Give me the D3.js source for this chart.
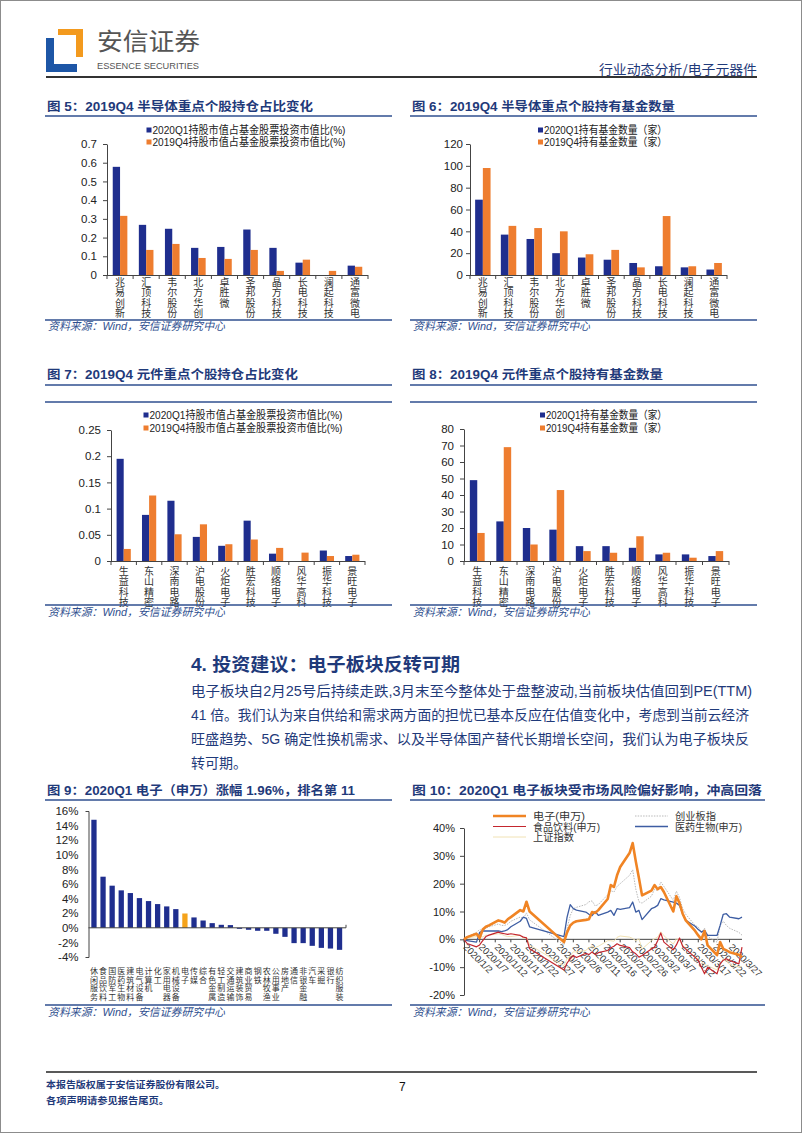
<!DOCTYPE html>
<html><head><meta charset="utf-8">
<script src="https://cdn.jsdelivr.net/npm/d3@7"></script>
<style>body{margin:0;background:#fff;}svg{display:block;}</style>
</head><body>
<svg id="c" width="802" height="1133"></svg>
<script>
// ---------------- DATA ----------------
const semiCats = ["兆易创新","汇顶科技","韦尔股份","北方华创","卓胜微","圣邦股份","晶方科技","长电科技","澜起科技","通富微电"];
const semiRatioQ1 = [0.578,0.268,0.247,0.145,0.150,0.243,0.145,0.066,0,0.050];
const semiRatioQ4 = [0.316,0.134,0.166,0.091,0.086,0.134,0.022,0.082,0.022,0.044];
const semiFundQ1 = [69,37,33,20,16,14,11,8,7,5];
const semiFundQ4 = [98,45,43,40,19,23,7,54,8,11];
const compCats = ["生益科技","东山精密","深南电路","沪电股份","火炬电子","胜宏科技","顺络电子","风华高科","振华科技","景旺电子"];
const compRatioQ1 = [0.195,0.088,0.115,0.046,0.029,0.077,0.014,0,0.020,0.0095];
const compRatioQ4 = [0.023,0.125,0.051,0.070,0.032,0.041,0.025,0.016,0.0095,0.012];
const compFundQ1 = [49,24,20,19,9,9,8,4,4,3];
const compFundQ4 = [17,69,10,43,6,5,15,5,2,6];
const ratioLegend = ["2020Q1持股市值占基金股票投资市值比(%)","2019Q4持股市值占基金股票投资市值比(%)"];
const fundLegend = ["2020Q1持有基金数量（家）","2019Q4持有基金数量（家）"];
const semiRatioTicks = [0,0.1,0.2,0.3,0.4,0.5,0.6,0.7];
const semiFundTicks = [0,20,40,60,80,100,120];
const compRatioTicks = [0,0.05,0.1,0.15,0.2,0.25];
const compFundTicks = [0,10,20,30,40,50,60,70,80];

const industryCats = ["休闲服务","食品饮料","国防军工","医药生物","建筑材料","电气设备","计算机","化工","家用电器","机械设备","电子","传媒","综合","有色金属","轻工制造","交通运输","建筑装饰","商业贸易","钢铁","农林牧渔","公用事业","房地产","通信","非银金融","汽车","采掘","银行","纺织服装"];
const industryReturns = [14.8,7.0,5.77,5.13,4.76,4.07,3.66,3.25,2.93,2.56,1.96,1.42,1.0,0.64,0.41,0.37,-0.14,-0.27,-0.41,-0.41,-0.82,-1.24,-2.1,-2.1,-2.47,-2.75,-2.84,-3.02];
const industryTicks = [-4,-2,0,2,4,6,8,10,12,14,16];

const tradeDates = ["2020/1/2","2020/1/3","2020/1/6","2020/1/7","2020/1/8","2020/1/9","2020/1/10","2020/1/13","2020/1/14","2020/1/15","2020/1/16","2020/1/17","2020/1/20","2020/1/21","2020/1/22","2020/1/23",
"2020/2/3","2020/2/4","2020/2/5","2020/2/6","2020/2/7","2020/2/10","2020/2/11","2020/2/12","2020/2/13","2020/2/14","2020/2/17","2020/2/18","2020/2/19","2020/2/20","2020/2/21","2020/2/24","2020/2/25","2020/2/26","2020/2/27","2020/2/28",
"2020/3/2","2020/3/3","2020/3/4","2020/3/5","2020/3/6","2020/3/9","2020/3/10","2020/3/11","2020/3/12","2020/3/13","2020/3/16","2020/3/17","2020/3/18","2020/3/19","2020/3/20","2020/3/23","2020/3/24","2020/3/25","2020/3/26","2020/3/27","2020/3/30","2020/3/31"];
const elecSW = [0,0.8,2.0,0.5,3.5,4.5,5.0,6.8,6.5,6.0,7.2,8.0,10.5,10.0,13.5,10.0,
-1.0,2.5,5.0,6.0,6.5,7.0,7.2,9.8,9.5,10.5,14.5,19.5,18.8,23.0,26.0,31.0,34.6,28.0,22.0,15.8,
17.5,19.5,18.0,18.8,17.0,10.0,15.5,13.0,9.2,6.8,3.0,1.4,0.0,3.0,-2.2,-5.7,-1.0,-3.4,-4.0,-4.6,-5.5,-6.4];
const gemIndex = [0,1.0,2.5,3.5,3.0,4.0,4.5,5.5,5.0,5.0,5.5,6.5,8.0,7.5,9.5,7.0,
-2.0,4.0,8.5,11.0,11.5,12.5,13.5,13.8,12.0,12.5,16.0,17.5,17.0,19.0,20.0,23.0,25.0,18.0,13.5,13.0,
15.5,18.0,17.5,20.6,19.0,14.0,17.3,15.0,11.0,9.0,5.0,4.4,2.5,4.0,1.0,-1.0,5.0,6.5,5.0,4.0,2.5,1.5];
const foodSW = [0,-1.5,-2.7,-2.0,-0.5,1.0,1.5,2.6,2.2,2.0,1.8,2.0,1.4,0.8,0.5,-3.4,
-11.0,-8.5,-7.0,-5.8,-6.5,-5.0,-5.5,-4.5,-5.5,-4.8,-4.0,-3.0,-2.5,-1.6,-2.2,-3.0,-4.5,-5.2,-6.4,-5.8,
-3.5,-2.8,-0.5,2.3,-1.0,-3.8,-2.0,0.5,-2.5,-3.5,-6.5,-7.6,-10.0,-12.4,-10.0,-12.4,-8.8,-7.5,-7.0,-7.6,-8.8,-2.8];
const pharmaSW = [0,-0.5,-1.0,2.5,3.0,3.0,3.0,3.0,2.8,3.0,3.5,4.5,6.5,8.0,7.5,4.5,
1.0,8.0,12.5,11.0,10.5,9.8,9.0,8.5,10.0,8.6,9.8,10.4,8.6,11.0,10.8,11.4,13.4,9.8,10.4,7.1,
11.0,11.5,12.2,14.6,14.2,13.4,13.0,12.2,9.2,6.8,4.7,3.5,2.6,3.2,1.4,1.4,5.0,9.0,9.2,8.0,7.4,8.0];
const shIndex = [0,0.5,1.0,1.5,0.8,1.5,1.5,2.0,1.8,1.3,1.0,1.0,1.5,0.3,0.8,-2.0,
-9.5,-7.0,-6.0,-4.5,-4.5,-4.0,-3.0,-2.5,-3.0,-2.5,-0.5,-0.5,-0.7,0.7,1.2,0.8,0.3,-0.5,0.2,-3.5,
-0.5,0.2,0.8,2.7,1.3,-1.7,0.2,-0.3,-2.0,-3.5,-6.7,-7.0,-8.0,-9.0,-9.5,-11.0,-9.0,-7.0,-7.5,-9.0,-10.0,-9.7];
const dateTickLabels = ["2020/1/2","2020/1/7","2020/1/12","2020/1/17","2020/1/22","2020/1/27","2020/2/1","2020/2/6","2020/2/11","2020/2/16","2020/2/21","2020/2/26","2020/3/2","2020/3/7","2020/3/12","2020/3/17","2020/3/22","2020/3/27"];
const lineTicks = [-20,-10,0,10,20,30,40];
const lineNames = ["电子(申万)","创业板指","食品饮料(申万)","医药生物(申万)","上证指数"];

const paraLines = ["电子板块自2月25号后持续走跌,3月末至今整体处于盘整波动,当前板块估值回到PE(TTM)",
"41 倍。我们认为来自供给和需求两方面的担忧已基本反应在估值变化中，考虑到当前云经济",
"旺盛趋势、5G 确定性换机需求、以及半导体国产替代长期增长空间，我们认为电子板块反",
"转可期。"];

// ---------------- STYLE ----------------
const LAT = "'Liberation Sans','Noto Sans CJK SC',sans-serif";
const CJK = "'Noto Sans CJK SC',sans-serif";
const NAVY = "#1f3a7a";
const BLUE = "#1f2e8e";
const ORANGE = "#ee7d2f";
const svg = d3.select("#c");

svg.append("rect").attr("x",0.5).attr("y",0.5).attr("width",801).attr("height",1132).attr("fill","none").attr("stroke","#8c8c8c");

// header
svg.append("path").attr("d","M46,38H54V64H77V72H46Z").attr("fill","#1d56a6");
svg.append("path").attr("d","M58,29H83V57H76V35H58Z").attr("fill","#f39a1e");
svg.append("text").attr("x",97).attr("y",50).attr("font-family",CJK).attr("font-size",24).attr("fill","#555")
  .attr("textLength",103).attr("lengthAdjust","spacingAndGlyphs").text("安信证券");
svg.append("text").attr("x",97).attr("y",69).attr("font-family","'Liberation Sans Narrow','Liberation Sans',sans-serif").attr("font-size",9.5).attr("fill","#555")
  .attr("textLength",102).attr("lengthAdjust","spacingAndGlyphs").text("ESSENCE SECURITIES");
svg.append("text").attr("x",599).attr("y",74).attr("font-family",CJK).attr("font-size",13).attr("fill",NAVY)
  .attr("textLength",158).attr("lengthAdjust","spacingAndGlyphs").text("行业动态分析/电子元器件");
svg.append("line").attr("x1",46).attr("x2",757).attr("y1",77).attr("y2",77).attr("stroke","#333").attr("stroke-width",2);

function hline(x1,x2,y,color,w){svg.append("line").attr("x1",x1).attr("x2",x2).attr("y1",y).attr("y2",y).attr("stroke",color||"#2f4f8f").attr("stroke-width",w||1.5);}
function title(x,y,txt,len){
  svg.append("text").attr("x",x).attr("y",y).attr("font-family",LAT).attr("font-weight","bold").attr("font-size",12.5)
    .attr("fill",NAVY).attr("textLength",len).attr("lengthAdjust","spacingAndGlyphs").text(txt);
}
function source(x,y){
  svg.append("text").attr("x",x).attr("y",y).attr("font-family",LAT).attr("font-style","italic").attr("font-size",11)
    .attr("fill","#2f4f8f").attr("textLength",177).attr("lengthAdjust","spacingAndGlyphs").text("资料来源：Wind，安信证券研究中心");
}
// vertical category label: one text element, top-to-bottom
function vlabel(g,xc,yTop,step,txt,size){
  g.append("text").attr("x",xc).attr("y",yTop)
    .style("writing-mode","vertical-rl").style("text-orientation","upright")
    .attr("font-family",CJK).attr("font-size",size).attr("letter-spacing",step-size)
    .attr("fill","#333").text(txt);
}

function barChart(o){
  const g = svg.append("g");
  const x = d3.scaleBand().domain(o.cats).range([o.x0,o.x1]);
  const y = d3.scaleLinear().domain([0,o.max]).range([o.yBot,o.yTop]);
  const bw = x.bandwidth();
  const inner = d3.scaleBand().domain(["a","b"]).range([0,bw*o.pair]);
  const off = bw*(1-o.pair)/2;
  const ax = g.append("g").attr("transform",`translate(${o.x0},0)`)
    .call(d3.axisLeft(y).tickValues(o.ticks).tickFormat(d3.format("~g")).tickSize(4).tickSizeOuter(0).tickPadding(o.pad));
  ax.select(".domain").attr("stroke","#444");
  ax.selectAll(".tick line").attr("stroke","#444");
  ax.selectAll(".tick text").attr("font-family",LAT).attr("font-size",11.5).attr("fill","#222");
  [[o.a,"a",BLUE],[o.b,"b",ORANGE]].forEach(([vals,k,col])=>{
    g.append("g").selectAll("rect").data(o.cats).join("rect")
      .attr("x",d=>x(d)+off+inner(k)).attr("width",inner.bandwidth())
      .attr("y",(d,i)=>y(vals[i])).attr("height",(d,i)=>y(0)-y(vals[i])).attr("fill",col);
  });
  g.append("line").attr("x1",o.x0).attr("x2",o.x1).attr("y1",y(0)+0.5).attr("y2",y(0)+0.5).attr("stroke","#444");
  d3.range(o.cats.length+1).forEach(i=>{
    const xx = o.x0+i*bw;
    g.append("line").attr("x1",xx).attr("x2",xx).attr("y1",y(0)).attr("y2",y(0)+4).attr("stroke","#444");
  });
  o.cats.forEach(c=>vlabel(g,x(c)+bw/2,o.labY-5,10.5,c,10));
  [[o.legend[0],BLUE,o.legY[0]],[o.legend[1],ORANGE,o.legY[1]]].forEach(([t,col,yy])=>{
    g.append("rect").attr("x",o.legX).attr("y",yy-2.5).attr("width",5).attr("height",5).attr("fill",col);
    g.append("text").attr("x",o.legX+6).attr("y",yy).attr("dominant-baseline","central").attr("font-family",LAT)
      .attr("font-size",11).attr("fill","#222").attr("textLength",o.legW).attr("lengthAdjust","spacingAndGlyphs").text(t);
  });
}

// Chart 5
title(47,111,"图 5：2019Q4 半导体重点个股持仓占比变化",266);
hline(45,392,116);
barChart({cats:semiCats,a:semiRatioQ1,b:semiRatioQ4,x0:107,x1:368,yTop:144,yBot:275,max:0.7,ticks:semiRatioTicks,pad:6,pair:0.56,labY:282,
  legend:ratioLegend,legX:146.5,legY:[130,142],legW:193});
hline(45,392,320);
source(48,330);

// Chart 6
title(412,111,"图 6：2019Q4 半导体重点个股持有基金数量",263);
hline(410,757,116);
barChart({cats:semiCats,a:semiFundQ1,b:semiFundQ4,x0:470,x1:727,yTop:144,yBot:275,max:120,ticks:semiFundTicks,pad:3,pair:0.6,labY:282,
  legend:fundLegend,legX:538,legY:[130,142],legW:123});
hline(410,757,320);
source(413,330);

// Chart 7
title(47,379,"图 7：2019Q4 元件重点个股持仓占比变化",251);
hline(45,392,385); hline(45,392,402);
barChart({cats:compCats,a:compRatioQ1,b:compRatioQ4,x0:111,x1:365,yTop:430,yBot:561,max:0.25,ticks:compRatioTicks,pad:6,pair:0.56,labY:571,
  legend:ratioLegend,legX:143.5,legY:[415,428],legW:193});
hline(45,392,605);
source(48,616);

// Chart 8
title(412,379,"图 8：2019Q4 元件重点个股持有基金数量",251);
hline(410,757,385); hline(410,757,402);
barChart({cats:compCats,a:compFundQ1,b:compFundQ4,x0:464,x1:729,yTop:429,yBot:561,max:80,ticks:compFundTicks,pad:6,pair:0.56,labY:571,
  legend:fundLegend,legX:540,legY:[415,428],legW:121});
hline(410,757,605);
source(413,616);

// Section text
svg.append("text").attr("x",191).attr("y",671).attr("font-family",LAT).attr("font-weight","bold").attr("font-size",18)
  .attr("fill",NAVY).attr("textLength",269).attr("lengthAdjust","spacingAndGlyphs").text("4. 投资建议：电子板块反转可期");
const paraLen = [561,558,558,null];
paraLines.forEach((t,i)=>{
  const tx = svg.append("text").attr("x",191).attr("y",696+i*24).attr("font-family",LAT).attr("font-size",14).attr("fill",NAVY).text(t);
  if(paraLen[i]) tx.attr("textLength",paraLen[i]).attr("lengthAdjust","spacingAndGlyphs");
});

// Chart 9
title(47,795,"图 9：2020Q1 电子（申万）涨幅 1.96%，排名第 11",308);
hline(45,392,800);
{
  const g = svg.append("g");
  const x = d3.scaleBand().domain(industryCats).range([87.5,346]).padding(0.42);
  const y = d3.scaleLinear().domain([-4,16]).range([957,811]);
  const ax = g.append("g").attr("transform","translate(88.5,0)")
    .call(d3.axisLeft(y).tickValues(industryTicks).tickFormat(d=>d+"%").tickSize(0).tickSizeOuter(3).tickPadding(10));
  ax.select(".domain").attr("stroke","#444");
  ax.selectAll(".tick text").attr("font-family",LAT).attr("font-size",11.5).attr("fill","#222");
  g.selectAll("rect").data(industryCats).join("rect")
    .attr("x",d=>x(d)).attr("width",x.bandwidth())
    .attr("y",(d,i)=>y(Math.max(0,industryReturns[i]))).attr("height",(d,i)=>Math.abs(y(industryReturns[i])-y(0)))
    .attr("fill",d=>d==="电子"?"#f5a31a":BLUE);
  g.append("line").attr("x1",88.5).attr("x2",346).attr("y1",y(0)).attr("y2",y(0)).attr("stroke","#444");
  g.append("line").attr("x1",346).attr("x2",346).attr("y1",y(0)-3).attr("y2",y(0)).attr("stroke","#444");
  industryCats.forEach(c=>vlabel(g,x(c)+x.bandwidth()/2,967,8.6,c,8));
}
hline(45,392,1005);
source(48,1016);

// Chart 10
title(412,795,"图 10：2020Q1 电子板块受市场风险偏好影响，冲高回落",350);
hline(410,765,800);
{
  const g = svg.append("g");
  const parse = d3.timeParse("%Y/%m/%d");
  const x = d3.scaleTime().domain([parse("2020/1/2"),parse("2020/3/31")]).range([464,742]);
  const y = d3.scaleLinear().domain([-20,40]).range([995,828]);
  const ax = g.append("g").attr("transform","translate(464,0)")
    .call(d3.axisLeft(y).tickValues(lineTicks).tickFormat(d=>d+"%").tickSize(4).tickSizeOuter(0).tickPadding(5));
  ax.select(".domain").attr("stroke","#444");
  ax.selectAll(".tick line").attr("stroke","#444");
  ax.selectAll(".tick text").attr("font-family",LAT).attr("font-size",11).attr("fill","#222");
  g.append("line").attr("x1",464).attr("x2",742).attr("y1",y(0)).attr("y2",y(0)).attr("stroke","#444");
  dateTickLabels.forEach(t=>{
    const xx = x(parse(t));
    g.append("line").attr("x1",xx).attr("x2",xx).attr("y1",y(0)).attr("y2",y(0)+3).attr("stroke","#444");
    g.append("text").attr("transform",`translate(${xx+1},${y(0)+6}) rotate(45)`).attr("dy","0.35em")
      .attr("font-family",LAT).attr("font-size",9.5).attr("fill","#333").text(t);
  });
  const dates = tradeDates.map(parse);
  const line = vals => d3.line().x((d,i)=>x(dates[i])).y(d=>y(d))(vals);
  const series = [
    {v:shIndex,c:"#f1e2b4",w:1,dash:null},
    {v:gemIndex,c:"#b9b9b9",w:1,dash:"1.5,1.2"},
    {v:pharmaSW,c:"#3d5da3",w:1.3,dash:null},
    {v:foodSW,c:"#c4262e",w:1.2,dash:null},
    {v:elecSW,c:"#f08424",w:2.6,dash:null}
  ];
  series.forEach(s=>{
    g.append("path").attr("d",line(s.v)).attr("fill","none").attr("stroke",s.c).attr("stroke-width",s.w)
      .attr("stroke-linejoin","round").attr("stroke-dasharray",s.dash);
  });
  const leg = [
    {n:lineNames[0],c:"#f08424",w:2.6,d:null,x:493,y:816,len:52},
    {n:lineNames[1],c:"#b9b9b9",w:1,d:"1.5,1.2",x:635,y:816,len:41},
    {n:lineNames[2],c:"#c4262e",w:1.2,d:null,x:493,y:826.5,len:67},
    {n:lineNames[3],c:"#3d5da3",w:1.3,d:null,x:635,y:826.5,len:67},
    {n:lineNames[4],c:"#f1e2b4",w:1,d:null,x:493,y:837,len:41}
  ];
  leg.forEach(l=>{
    g.append("line").attr("x1",l.x).attr("x2",l.x+33).attr("y1",l.y).attr("y2",l.y).attr("stroke",l.c).attr("stroke-width",l.w).attr("stroke-dasharray",l.d);
    g.append("text").attr("x",l.x+40).attr("y",l.y).attr("dominant-baseline","central").attr("font-family",LAT)
      .attr("font-size",10.5).attr("fill","#333").attr("textLength",l.len).attr("lengthAdjust","spacingAndGlyphs").text(l.n);
  });
}
hline(410,765,1005);
source(413,1016);

// footer
svg.append("line").attr("x1",46).attr("x2",757).attr("y1",1072).attr("y2",1072).attr("stroke","#222").attr("stroke-width",1.5);
svg.append("text").attr("x",46).attr("y",1088).attr("font-family",CJK).attr("font-weight","bold").attr("font-size",9.5).attr("fill",NAVY)
  .attr("textLength",179).attr("lengthAdjust","spacingAndGlyphs").text("本报告版权属于安信证券股份有限公司。");
svg.append("text").attr("x",46).attr("y",1104).attr("font-family",CJK).attr("font-weight","bold").attr("font-size",9.5).attr("fill",NAVY)
  .attr("textLength",123).attr("lengthAdjust","spacingAndGlyphs").text("各项声明请参见报告尾页。");
svg.append("text").attr("x",399).attr("y",1091).attr("font-family",LAT).attr("font-size",12).attr("fill","#111").text("7");
</script>
</body></html>
